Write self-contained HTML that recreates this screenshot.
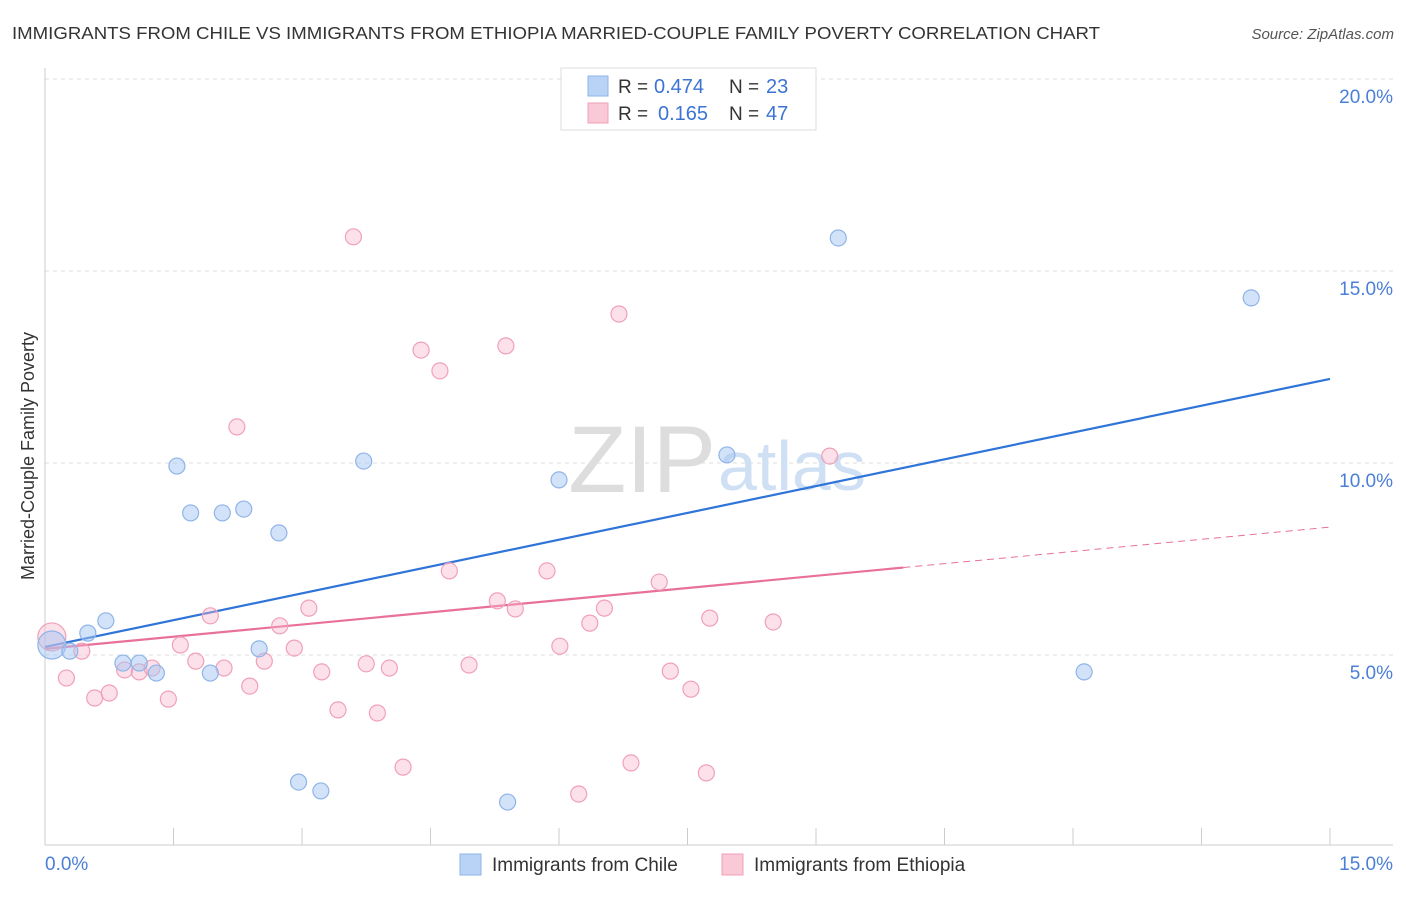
<!DOCTYPE html>
<html><head><meta charset="utf-8"><style>
body{margin:0;background:#fff;font-family:"Liberation Sans",sans-serif}
svg text{font-family:"Liberation Sans",sans-serif}
</style></head><body>
<svg width="1406" height="892" viewBox="0 0 1406 892">
<text x="12" y="39" font-size="17.5" textLength="1088" lengthAdjust="spacingAndGlyphs" fill="#333">IMMIGRANTS FROM CHILE VS IMMIGRANTS FROM ETHIOPIA MARRIED-COUPLE FAMILY POVERTY CORRELATION CHART</text>
<text x="1394" y="39" font-size="15" fill="#555" font-style="italic" text-anchor="end">Source: ZipAtlas.com</text>
<g id="grid"></g>
<text x="716" y="492" font-size="95" fill="#ddd" text-anchor="end" font-family="Liberation Serif">ZIP</text>
<text x="718" y="490" font-size="70" fill="#cfe0f5">atlas</text>
<g id="axes"></g>
<g id="lines"></g>
<g id="pts"></g>
<text x="34" y="456" font-size="18" fill="#333" text-anchor="middle" transform="rotate(-90 34 456)">Married-Couple Family Poverty</text>
<g>
<rect x="561" y="68" width="255" height="62" fill="#fff" stroke="#ddd"/>
<rect x="588" y="76" width="20" height="20" fill="#b8d3f5" stroke="#8fb4e8"/>
<rect x="588" y="103" width="20" height="20" fill="#f9c9d8" stroke="#f0a0b8"/>
<text x="618" y="93" font-size="19" fill="#333">R =</text>
<text x="654" y="93" font-size="20" fill="#3b74d4">0.474</text>
<text x="729" y="93" font-size="19" fill="#333">N =</text>
<text x="766" y="93" font-size="20" fill="#3b74d4">23</text>
<text x="618" y="120" font-size="19" fill="#333">R =</text>
<text x="658" y="120" font-size="20" fill="#3b74d4">0.165</text>
<text x="729" y="120" font-size="19" fill="#333">N =</text>
<text x="766" y="120" font-size="20" fill="#3b74d4">47</text>
</g>
<g>
<rect x="460" y="854" width="21" height="21" fill="#b8d3f5" stroke="#8fb4e8"/>
<text x="492" y="871" font-size="19" fill="#333">Immigrants from Chile</text>
<rect x="722" y="854" width="21" height="21" fill="#f9c9d8" stroke="#f0a0b8"/>
<text x="754" y="871" font-size="19" fill="#333">Immigrants from Ethiopia</text>
</g>
</svg>
<script>
const chileX=[0.08,0.29,0.50,0.71,0.91,1.10,1.30,1.54,1.70,1.93,2.07,2.32,2.50,2.73,2.96,3.22,3.72,5.40,6.00,7.96,9.26,12.13,14.08];
const chileY=[5.26,5.10,5.57,5.89,4.79,4.79,4.53,9.92,8.70,4.53,8.70,8.80,5.16,8.18,1.69,1.46,10.05,1.17,9.56,10.21,15.86,4.56,14.30];
const ethX=[0.08,0.25,0.43,0.58,0.75,0.93,1.10,1.25,1.44,1.58,1.76,1.93,2.09,2.24,2.39,2.56,2.74,2.91,3.08,3.23,3.42,3.60,3.75,3.88,4.02,4.18,4.39,4.61,4.72,4.95,5.28,5.38,5.49,5.86,6.01,6.23,6.36,6.53,6.70,6.84,7.17,7.30,7.54,7.72,7.76,8.50,9.16];
const ethY=[5.47,4.40,5.10,3.88,4.01,4.61,4.56,4.66,3.85,5.26,4.84,6.02,4.66,10.94,4.19,4.84,5.76,5.18,6.22,4.56,3.57,15.89,4.77,3.49,4.66,2.08,12.94,12.40,7.19,4.74,6.41,13.05,6.20,7.19,5.23,1.38,5.83,6.22,13.88,2.19,6.90,4.58,4.11,1.93,5.96,5.86,10.18];
const chileTrend=[5.21,12.19];
const ethTrend=[5.16,8.33];
const yTicks=[5,10,15,20];
const xTickLabels=["0.0%","15.0%"];
const NS="http://www.w3.org/2000/svg";
const X=v=>45+v*(1285/15), Y=v=>847-v*38.4;
function mk(tag,attrs,parent){const e=document.createElementNS(NS,tag);for(const k in attrs)e.setAttribute(k,attrs[k]);document.getElementById(parent).appendChild(e);return e;}
yTicks.forEach(t=>{
 const l=mk('line',{x1:45,x2:1393,y1:Y(t),y2:Y(t),stroke:'#ddd','stroke-dasharray':'4,4'},'grid');
 
 
 const tx=mk('text',{x:1393,y:Y(t)+24,'font-size':19,fill:'#4a7fd6','text-anchor':'end'},'grid');
 tx.textContent=t.toFixed(1)+'%';
 
 
});
const ax=mk('line',{x1:45,x2:45,y1:68,y2:845,stroke:'#ccc'},'axes');


const bx=mk('line',{x1:45,x2:1393,y1:845,y2:845,stroke:'#ccc'},'axes');


for(let i=0;i<=10;i++){const tk=mk('line',{x1:X(i*1.5),x2:X(i*1.5),y1:828,y2:845,stroke:'#ccc'},'axes');
 
 }
[[0,'start',45],[1,'end',1393]].forEach(([i,a,x])=>{const t=mk('text',{x:x,y:870,'font-size':19,fill:'#4a7fd6','text-anchor':a},'axes');t.textContent=xTickLabels[i];
 
 });
const tb=mk('line',{x1:X(0),y1:Y(chileTrend[0]),x2:X(15),y2:Y(chileTrend[1]),stroke:'#2f74d8','stroke-width':2.2},'lines');


const ef=v=>ethTrend[0]+(ethTrend[1]-ethTrend[0])*v/15;
const tp=mk('line',{x1:X(0),y1:Y(ef(0)),x2:X(10.02),y2:Y(ef(10.02)),stroke:'#e8709a','stroke-width':2.2},'lines');


const td=mk('line',{x1:X(10.02),y1:Y(ef(10.02)),x2:X(15),y2:Y(ef(15)),stroke:'#e8709a','stroke-width':1,'stroke-dasharray':'7,5'},'lines');


ethX.forEach((x,i)=>{const c=mk('circle',{cx:X(x),cy:Y(ethY[i]),r:i==0?14:8,fill:'rgba(248,180,203,0.4)',stroke:'#f0a0b8','stroke-width':1.2},'pts');
 
 });
chileX.forEach((x,i)=>{const c=mk('circle',{cx:X(x),cy:Y(chileY[i]),r:i==0?14:8,fill:'rgba(165,198,242,0.5)',stroke:'#8fb4e8','stroke-width':1.2},'pts');
 
 });
</script>
</body></html>
